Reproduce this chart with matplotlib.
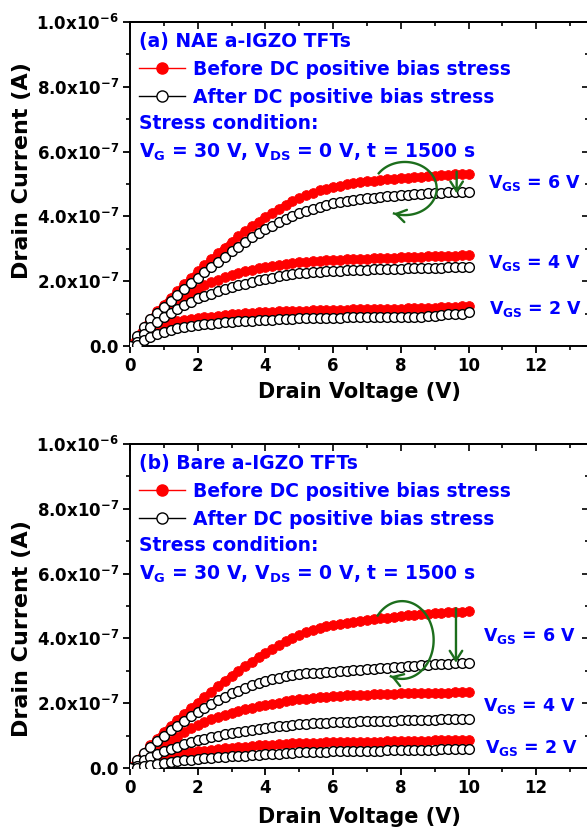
import numpy as np, matplotlib
matplotlib.use("Agg"); import matplotlib.pyplot as plt
from matplotlib.ticker import MultipleLocator, NullFormatter
plt.rcParams.update({"font.family":"DejaVu Sans","font.weight":"bold","mathtext.default":"bf",
                     "axes.linewidth":1.4})

# drain voltage sweep (V) and drain currents in units of 1e-7 A, every 0.2 V
VDS=np.round(np.arange(0,10.01,0.2),1)
A_BEFORE_6=[0.00,0.30,0.58,0.84,1.07,1.28,1.49,1.70,1.90,2.10,2.30,
            2.49,2.68,2.86,3.04,3.22,3.38,3.54,3.69,3.84,3.98,
            4.11,4.24,4.36,4.48,4.58,4.66,4.73,4.80,4.86,4.92,
            4.95,4.99,5.02,5.05,5.08,5.10,5.12,5.14,5.16,5.18,
            5.20,5.21,5.23,5.24,5.26,5.27,5.28,5.30,5.31,5.32]
A_AFTER_6=[0.00,0.30,0.58,0.82,1.02,1.20,1.39,1.58,1.76,1.93,2.10,
           2.27,2.43,2.60,2.76,2.92,3.07,3.21,3.35,3.48,3.60,
           3.71,3.82,3.92,4.01,4.10,4.17,4.24,4.30,4.35,4.40,
           4.43,4.47,4.50,4.53,4.56,4.58,4.60,4.62,4.64,4.66,
           4.67,4.68,4.70,4.71,4.72,4.73,4.74,4.75,4.75,4.76]
A_BEFORE_4=[0.00,0.15,0.38,0.62,0.85,1.06,1.23,1.38,1.52,1.65,1.77,
            1.87,1.96,2.04,2.12,2.19,2.25,2.30,2.35,2.40,2.44,
            2.47,2.50,2.53,2.56,2.58,2.59,2.61,2.62,2.64,2.65,
            2.66,2.67,2.68,2.69,2.70,2.71,2.72,2.72,2.73,2.74,
            2.75,2.75,2.76,2.77,2.77,2.78,2.79,2.79,2.80,2.81]
A_AFTER_4=[0.00,0.12,0.38,0.58,0.75,0.90,1.03,1.15,1.27,1.37,1.47,
           1.55,1.62,1.69,1.76,1.82,1.87,1.92,1.97,2.03,2.08,
           2.11,2.15,2.18,2.22,2.25,2.26,2.28,2.29,2.31,2.32,
           2.33,2.34,2.34,2.35,2.36,2.37,2.37,2.38,2.38,2.39,
           2.40,2.40,2.41,2.41,2.42,2.42,2.43,2.43,2.44,2.44]
A_BEFORE_2=[0.00,0.10,0.25,0.40,0.53,0.65,0.71,0.76,0.80,0.84,0.87,
            0.89,0.91,0.94,0.96,0.98,0.99,1.01,1.02,1.04,1.05,
            1.06,1.07,1.07,1.08,1.09,1.09,1.10,1.10,1.11,1.11,
            1.12,1.12,1.13,1.13,1.13,1.14,1.14,1.14,1.15,1.15,
            1.16,1.16,1.17,1.17,1.18,1.19,1.20,1.21,1.22,1.24]
A_AFTER_2=[0.00,0.04,0.18,0.28,0.37,0.44,0.50,0.55,0.59,0.62,0.65,
           0.67,0.69,0.71,0.73,0.75,0.76,0.77,0.78,0.79,0.80,
           0.81,0.82,0.83,0.84,0.85,0.85,0.86,0.86,0.87,0.87,
           0.87,0.88,0.88,0.88,0.89,0.89,0.89,0.90,0.90,0.90,
           0.91,0.91,0.91,0.92,0.92,0.97,0.98,0.98,0.99,1.04]
B_BEFORE_6=[0.00,0.24,0.47,0.70,0.91,1.12,1.31,1.49,1.67,1.85,2.02,
            2.19,2.36,2.53,2.69,2.85,3.00,3.14,3.28,3.42,3.55,
            3.67,3.79,3.91,4.02,4.12,4.20,4.27,4.33,4.38,4.42,
            4.45,4.49,4.52,4.55,4.58,4.60,4.62,4.64,4.67,4.69,
            4.71,4.72,4.74,4.75,4.77,4.78,4.80,4.81,4.83,4.84]
B_AFTER_6=[0.00,0.24,0.46,0.66,0.84,1.00,1.16,1.31,1.46,1.59,1.72,
           1.85,1.97,2.09,2.20,2.30,2.39,2.47,2.55,2.63,2.70,
           2.75,2.79,2.83,2.87,2.90,2.92,2.93,2.94,2.96,2.97,
           2.99,3.00,3.02,3.03,3.05,3.07,3.08,3.10,3.11,3.13,
           3.14,3.16,3.17,3.19,3.20,3.21,3.22,3.23,3.24,3.25]
B_BEFORE_4=[0.00,0.10,0.25,0.40,0.55,0.70,0.84,0.97,1.10,1.22,1.33,
            1.42,1.50,1.58,1.65,1.71,1.76,1.81,1.86,1.91,1.95,
            1.99,2.02,2.06,2.09,2.12,2.14,2.16,2.18,2.20,2.22,
            2.23,2.24,2.25,2.26,2.26,2.27,2.28,2.29,2.29,2.30,
            2.30,2.31,2.31,2.32,2.32,2.33,2.33,2.34,2.34,2.35]
B_AFTER_4=[0.00,0.06,0.24,0.35,0.44,0.51,0.58,0.66,0.73,0.79,0.85,
           0.90,0.95,1.00,1.04,1.08,1.11,1.14,1.17,1.20,1.23,
           1.26,1.29,1.31,1.34,1.36,1.37,1.38,1.39,1.40,1.41,
           1.42,1.42,1.43,1.44,1.44,1.45,1.45,1.46,1.46,1.47,
           1.47,1.48,1.48,1.49,1.49,1.50,1.50,1.51,1.51,1.52]
B_BEFORE_2=[0.00,0.05,0.12,0.19,0.26,0.32,0.37,0.41,0.45,0.48,0.51,
            0.54,0.56,0.59,0.61,0.63,0.65,0.66,0.68,0.70,0.71,
            0.72,0.74,0.75,0.76,0.77,0.77,0.78,0.78,0.79,0.79,
            0.79,0.80,0.80,0.80,0.81,0.81,0.81,0.82,0.82,0.82,
            0.83,0.83,0.84,0.84,0.85,0.85,0.86,0.86,0.87,0.87]
B_AFTER_2=[0.00,0.01,0.05,0.09,0.13,0.16,0.19,0.22,0.24,0.26,0.28,
           0.30,0.31,0.33,0.34,0.36,0.37,0.38,0.40,0.41,0.42,
           0.43,0.44,0.46,0.47,0.48,0.48,0.49,0.50,0.50,0.51,
           0.51,0.52,0.52,0.53,0.53,0.54,0.54,0.55,0.55,0.56,
           0.56,0.56,0.57,0.57,0.57,0.58,0.58,0.58,0.59,0.59]

XTICKS=[0,2,4,6,8,10,12]
YTICKS=[0,2e-7,4e-7,6e-7,8e-7,1e-6]
YTICKLABELS=["0.0","2.0x10$^{-7}$","4.0x10$^{-7}$","6.0x10$^{-7}$","8.0x10$^{-7}$","1.0x10$^{-6}$"]
VGS_LABELS=["V$_{GS}$ = 6 V","V$_{GS}$ = 4 V","V$_{GS}$ = 2 V"]
TITLES=["(a) NAE a-IGZO TFTs","(b) Bare a-IGZO TFTs"]
LEG=["Before DC positive bias stress","After DC positive bias stress"]
STRESS=["Stress condition:","V$_{G}$ = 30 V, V$_{DS}$ = 0 V, t = 1500 s"]
# label anchors (V, A) for the V_GS tags, per panel
VGS_POS=[[(10.58,4.88e-7),(10.58,2.40e-7),(10.60,0.98e-7)],
         [(10.43,3.93e-7),(10.42,1.75e-7),(10.49,0.45e-7)]]
# curl arrow: centre (V,A), radii (V,A), start/end angle; drop arrow: x, top, tip
CURL=[((8.12,4.86e-7),(0.94,0.82e-7),145,-110),((8.04,3.95e-7),(0.93,1.20e-7),141,-111)]
DROP=[(9.65,5.38e-7,4.71e-7),(9.63,4.93e-7,3.25e-7)]

BLUE,GREEN,RED="#0000ff","#1c6e1c","#ff0000"
PANELS=[(A_BEFORE_6,A_BEFORE_4,A_BEFORE_2,A_AFTER_6,A_AFTER_4,A_AFTER_2),
        (B_BEFORE_6,B_BEFORE_4,B_BEFORE_2,B_AFTER_6,B_AFTER_4,B_AFTER_2)]
W,H=587,830; L,R=130,589; XMAX=(R-L)/33.85
BOTS=[346,768]; HPX=324

fig=plt.figure(figsize=(W/100,H/100),dpi=100)
arrow=dict(arrowstyle="->,head_length=0.7,head_width=0.45",color=GREEN,lw=1.7,shrinkA=0,shrinkB=0)
for k,data in enumerate(PANELS):
    ax=fig.add_axes([L/W,1-BOTS[k]/H,(R-L)/W,HPX/H])
    for s in data[:3]:
        ax.plot(VDS,np.array(s)*1e-7,"-o",color=RED,lw=4,ms=7,mec=RED,mew=0.6,zorder=3)
    for s in data[3:]:
        ax.plot(VDS,np.array(s)*1e-7,"-o",color="k",lw=1,ms=7,mfc="white",mec="k",mew=1,zorder=4)
    ax.set_xlim(0,XMAX); ax.set_ylim(0,1e-6)
    ax.set_xticks(XTICKS); ax.set_yticks(YTICKS); ax.set_yticklabels(YTICKLABELS)
    ax.xaxis.set_minor_locator(MultipleLocator(1)); ax.yaxis.set_minor_locator(MultipleLocator(1e-7))
    ax.tick_params(which="major",direction="out",length=5,width=1.3,labelsize=12,pad=3)
    ax.tick_params(which="minor",direction="out",length=3,width=1.2)
    top=ax.secondary_xaxis("top"); right=ax.secondary_yaxis("right")
    top.set_xticks(XTICKS); top.xaxis.set_minor_locator(MultipleLocator(1))
    right.set_yticks(YTICKS); right.yaxis.set_minor_locator(MultipleLocator(1e-7))
    for sec,axis in ((top,top.xaxis),(right,right.yaxis)):
        axis.set_major_formatter(NullFormatter())
        sec.tick_params(which="both",direction="in",width=1.2)
        sec.tick_params(which="major",length=5); sec.tick_params(which="minor",length=3)
    ax.set_xlabel("Drain Voltage (V)",fontsize=15,fontweight="bold")
    ax.xaxis.set_label_coords(0.5,[-0.111,-0.120][k])
    ax.set_ylabel("Drain Current (A)",fontsize=16,fontweight="bold")
    ax.yaxis.label.set(va="center",ha="center")
    ax.yaxis.set_label_coords(-0.235,[0.541,0.431][k])
    # annotations in blue
    tx=dict(transform=ax.transAxes,color=BLUE,fontsize=13.5,fontweight="bold",va="baseline")
    ax.text(0.0196,0.922,TITLES[k],**tx)
    ax.text(0.137,0.835,LEG[0],**tx); ax.text(0.137,0.750,LEG[1],**tx)
    ax.text(0.0196,0.669,STRESS[0],**tx); ax.text(0.0196,0.580,STRESS[1],**tx)
    ax.plot([0.0196,0.1198],[0.857,0.857],transform=ax.transAxes,color=RED,lw=1,clip_on=False)
    ax.plot([0.0697],[0.857],"o",transform=ax.transAxes,color=RED,ms=8,clip_on=False)
    ax.plot([0.0196,0.1198],[0.771,0.771],transform=ax.transAxes,color="k",lw=1,clip_on=False)
    ax.plot([0.0697],[0.771],"o",transform=ax.transAxes,mfc="white",mec="k",ms=8,mew=1,clip_on=False)
    for lab,(x,y) in zip(VGS_LABELS,VGS_POS[k]):
        ax.text(x,y,lab,color=BLUE,fontsize=12.5,fontweight="bold",va="baseline",ha="left")
    # green arrows
    (cx,cy),(rx,ry),t0,t1=CURL[k]; t=np.radians(np.linspace(t0,t1,90))
    xs,ys=cx+rx*np.cos(t),cy+ry*np.sin(t)
    ax.plot(xs,ys,color=GREEN,lw=1.7,zorder=6)
    ax.annotate("",xy=(xs[-1],ys[-1]),xytext=(xs[-5],ys[-5]),arrowprops=arrow,zorder=6)
    x,top_,tip=DROP[k]
    ax.annotate("",xy=(x,tip),xytext=(x,top_),arrowprops=arrow,zorder=6)

fig.savefig("out.png",dpi=100)
